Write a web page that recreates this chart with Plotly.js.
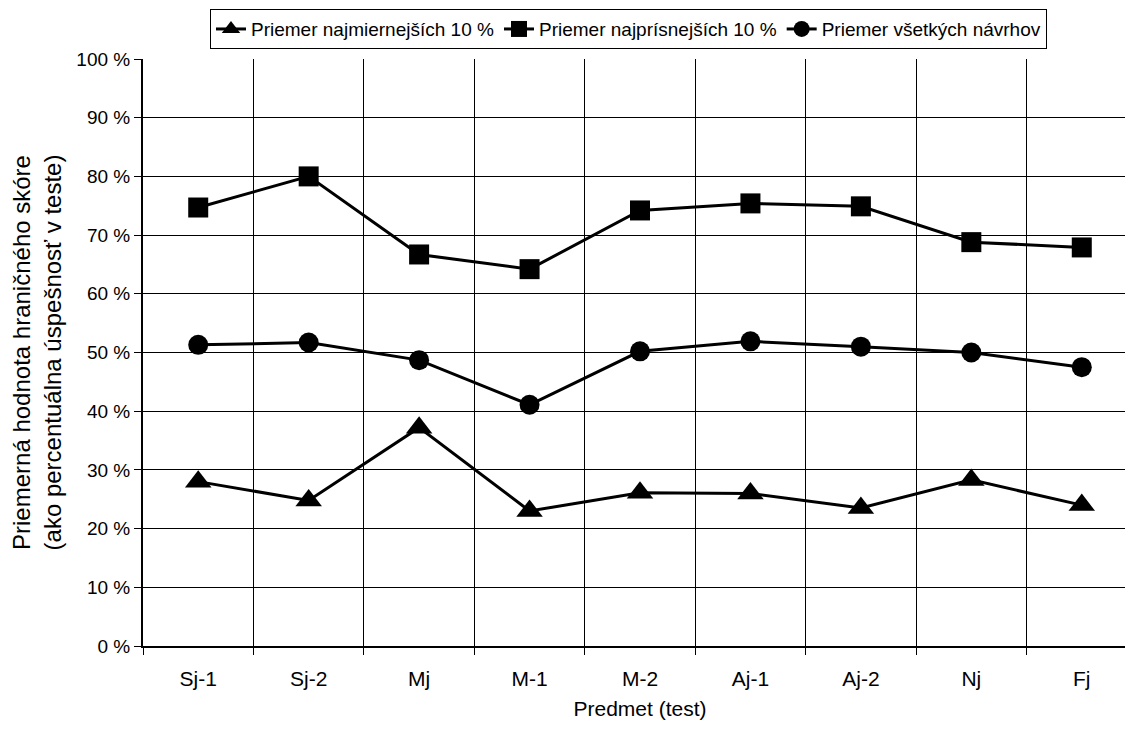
<!DOCTYPE html>
<html>
<head>
<meta charset="utf-8">
<script src="https://cdn.plot.ly/plotly-3.0.1.min.js"></script>
<style>
html, body { margin: 0; padding: 0; overflow: hidden; background: #fff; width: 1125px; height: 738px; }
#chart { width: 1200px; height: 738px; }
</style>
</head>
<body>
<div id="chart"></div>
<script>
const categories = ["Sj-1", "Sj-2", "Mj", "M-1", "M-2", "Aj-1", "Aj-2", "Nj", "Fj"];
const seriesNames = ["Priemer najmiernejších 10 %", "Priemer najprísnejších 10 %", "Priemer všetkých návrhov"];
const mildest = [28.0, 24.8, 37.2, 23.0, 26.1, 26.0, 23.5, 28.3, 24.0];
const strictest = [74.7, 80.0, 66.7, 64.2, 74.2, 75.4, 74.9, 68.8, 67.9];
const allProposals = [51.3, 51.7, 48.7, 41.1, 50.2, 51.9, 51.0, 50.0, 47.5];
const yTickVals = [0, 10, 20, 30, 40, 50, 60, 70, 80, 90, 100];
const yTickText = ["0 %", "10 %", "20 %", "30 %", "40 %", "50 %", "60 %", "70 %", "80 %", "90 %", "100 %"];

const FONT = "Liberation Sans, Arial, sans-serif";

function mk(y, name, symbol, size) {
  return {
    type: "scatter", mode: "lines+markers", x: categories, y: y, name: name,
    line: { color: "#000", width: 3 },
    marker: { color: "#000", symbol: symbol, size: size, line: { width: 0 } },
    cliponaxis: false
  };
}

const data = [
  mk(mildest, seriesNames[0], "triangle-up", 23),
  mk(strictest, seriesNames[1], "square", 20),
  mk(allProposals, seriesNames[2], "circle", 20)
];

const layout = {
  width: 1200, height: 738,
  margin: { l: 143, r: 63, t: 59, b: 92, autoexpand: false },
  paper_bgcolor: "#fff", plot_bgcolor: "#fff",
  font: { family: FONT, color: "#000", size: 18 },
  showlegend: true,
  legend: {
    orientation: "h", x: 0.0674, xanchor: "left", y: 1.085, yanchor: "top",
    bordercolor: "#000", borderwidth: 1, bgcolor: "#fff",
    font: { family: FONT, size: 19, color: "#000" },
    itemwidth: 30, tracegroupgap: 0
  },
  xaxis: {
    type: "category", tickson: "boundaries",
    showgrid: true, gridcolor: "#000", gridwidth: 1,
    showline: true, linecolor: "#000", linewidth: 2,
    ticks: "outside", ticklen: 7, tickcolor: "#000", tickwidth: 1,
    ticklabelstandoff: 13,
    tickfont: { family: FONT, size: 21, color: "#000" },
    title: { text: "Predmet (test)", font: { family: FONT, size: 21, color: "#000" }, standoff: 12 },
    range: [-0.5, 8.5], fixedrange: true, zeroline: false, automargin: false
  },
  yaxis: {
    range: [0, 100], tickvals: yTickVals, ticktext: yTickText,
    showgrid: true, gridcolor: "#000", gridwidth: 1,
    showline: true, linecolor: "#000", linewidth: 2,
    ticks: "outside", ticklen: 7, tickcolor: "#000", tickwidth: 1,
    tickfont: { family: FONT, size: 19, color: "#000" },
    title: { text: "Priemerná hodnota hraničného skóre<br>(ako percentuálna úspešnosť v teste)", font: { family: FONT, size: 24, color: "#000" }, standoff: 8 },
    zeroline: false, fixedrange: true, automargin: false
  }
};

Plotly.newPlot("chart", data, layout, { displayModeBar: false, staticPlot: true });
</script>
</body>
</html>
